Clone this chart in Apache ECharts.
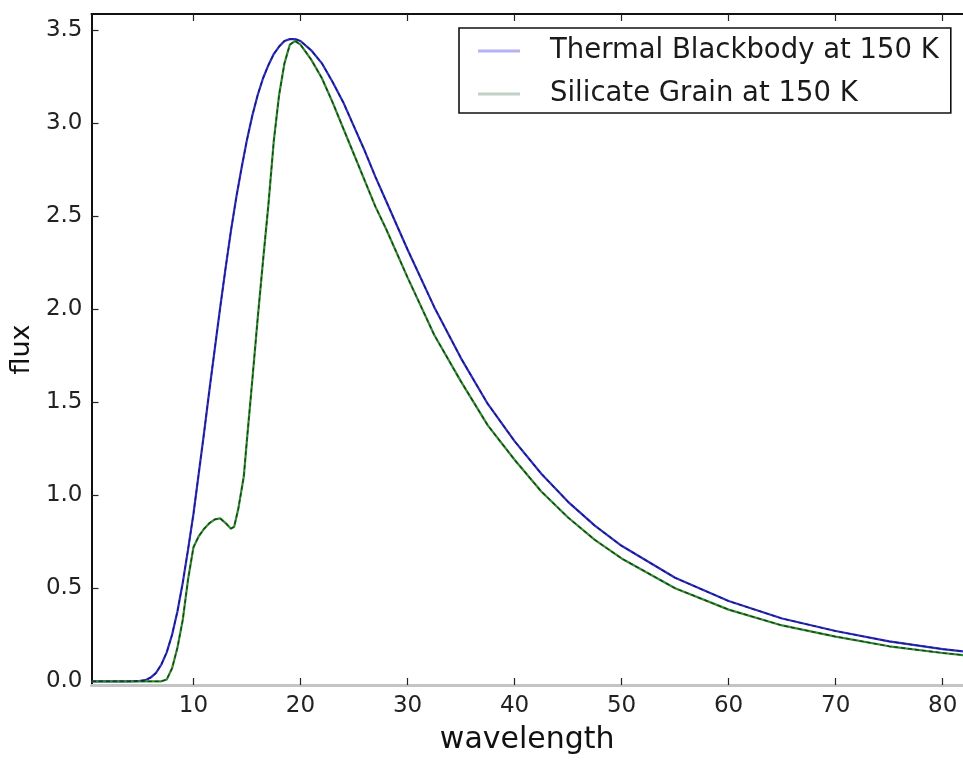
<!DOCTYPE html>
<html>
<head>
<meta charset="utf-8">
<script src="https://cdn.jsdelivr.net/npm/echarts@6/dist/echarts.min.js"></script>
<style>
html,body{margin:0;padding:0;background:#fff;}
#chart{width:963px;height:760px;}
</style>
</head>
<body>
<div id="chart"></div>
<script>
// ---- data ----
const seriesNames = ["Thermal Blackbody at 150 K", "Silicate Grain at 150 K"];
const xTicks = [10, 20, 30, 40, 50, 60, 70, 80];
const yTicks = [0.0, 0.5, 1.0, 1.5, 2.0, 2.5, 3.0, 3.5];

const bbWave = [0.5, 1, 2, 3, 4, 5, 5.5, 6, 6.5, 7, 7.5, 8, 8.5, 9, 9.5, 10, 10.5, 11, 11.5, 12, 12.5, 13, 13.5, 14, 14.5, 15, 15.5, 16, 16.5, 17, 17.5, 18, 18.5, 19, 19.5, 20, 21, 22, 23, 24, 25, 26, 27, 28, 30, 32.5, 35, 37.5, 40, 42.5, 45, 47.5, 50, 55, 60, 65, 70, 75, 80, 82];
const bbFlux = [0, 0, 0, 0, 0, 0.002, 0.006, 0.02, 0.045, 0.09, 0.155, 0.25, 0.375, 0.53, 0.71, 0.90, 1.12, 1.34, 1.57, 1.79, 2.01, 2.22, 2.42, 2.60, 2.76, 2.91, 3.04, 3.15, 3.24, 3.31, 3.37, 3.41, 3.44, 3.45, 3.45, 3.44, 3.39, 3.32, 3.22, 3.11, 2.98, 2.85, 2.71, 2.58, 2.32, 2.01, 1.735, 1.49, 1.29, 1.115, 0.964, 0.836, 0.728, 0.556, 0.431, 0.337, 0.270, 0.214, 0.173, 0.160];

const siWave = [0.5, 1, 2, 3, 4, 5, 6, 7, 7.5, 8, 8.5, 9, 9.5, 10, 10.5, 11, 11.5, 12, 12.5, 13, 13.5, 13.8, 14.2, 14.7, 15, 15.5, 16, 16.5, 17, 17.5, 18, 18.5, 19, 19.5, 20, 21, 22, 23, 24, 25, 26, 27, 28, 30, 32.5, 35, 37.5, 40, 42.5, 45, 47.5, 50, 55, 60, 65, 70, 75, 80, 82];
const siFlux = [0, 0, 0, 0, 0, 0, 0, 0, 0.01, 0.07, 0.18, 0.33, 0.55, 0.72, 0.78, 0.82, 0.85, 0.87, 0.875, 0.85, 0.82, 0.83, 0.93, 1.10, 1.30, 1.62, 1.95, 2.26, 2.56, 2.90, 3.15, 3.32, 3.42, 3.44, 3.42, 3.34, 3.24, 3.11, 2.97, 2.83, 2.69, 2.55, 2.43, 2.17, 1.86, 1.61, 1.375, 1.19, 1.02, 0.88, 0.76, 0.66, 0.50, 0.385, 0.30, 0.24, 0.188, 0.152, 0.140];

const bbData = bbWave.map((w, i) => [w, bbFlux[i]]);
const siData = siWave.map((w, i) => [w, siFlux[i]]);

const chart = echarts.init(document.getElementById('chart'), null, {renderer: 'canvas'});
const FONT = 'DejaVu Sans';

const option = {
  backgroundColor: '#ffffff',
  animation: false,
  grid: {left: 91, top: 14, right: 0, bottom: 70, show: false},
  legend: {
    show: true,
    orient: 'vertical',
    left: 459,
    top: 28,
    padding: [8, 12, 4, 19],
    itemGap: 13,
    itemWidth: 42,
    itemHeight: 3,
    backgroundColor: '#ffffff',
    borderColor: '#111111',
    borderWidth: 1.6,
    borderRadius: 0,
    textStyle: {fontFamily: FONT, fontSize: 27.5, color: '#1a1a1a', padding: [0, 0, 0, 25], lineHeight: 30},
    data: [
      {name: seriesNames[0], icon: 'rect', itemStyle: {color: '#b7b3f2'}},
      {name: seriesNames[1], icon: 'rect', itemStyle: {color: '#c2d0c6'}}
    ]
  },
  xAxis: [{
    type: 'value',
    min: 0.47,
    max: 81.9,
    position: 'bottom',
    name: 'wavelength',
    nameLocation: 'middle',
    nameGap: 40,
    nameTextStyle: {fontFamily: FONT, fontSize: 30, color: '#111'},
    axisLine: {show: true, onZero: false, lineStyle: {color: '#c4c4c4', width: 3}},
    axisTick: {show: true, inside: true, length: 7, customValues: xTicks, lineStyle: {color: '#222', width: 1.2}},
    axisLabel: {show: true, customValues: xTicks, fontFamily: FONT, fontSize: 23, color: '#222', margin: 10, formatter: v => String(v)},
    splitLine: {show: false}
  }, {
    type: 'value',
    min: 0.47,
    max: 81.9,
    position: 'top',
    axisLine: {show: true, onZero: false, lineStyle: {color: '#111', width: 2}},
    axisTick: {show: true, inside: true, length: 7, customValues: xTicks, lineStyle: {color: '#222', width: 1.2}},
    axisLabel: {show: false},
    splitLine: {show: false}
  }],
  yAxis: [{
    type: 'value',
    min: -0.02,
    max: 3.585,
    position: 'left',
    name: 'flux',
    nameLocation: 'middle',
    nameGap: 53,
    nameTextStyle: {fontFamily: FONT, fontSize: 27, color: '#111'},
    axisLine: {show: true, onZero: false, lineStyle: {color: '#111', width: 2}},
    axisTick: {show: true, inside: true, length: 7, customValues: yTicks, lineStyle: {color: '#222', width: 1.2}},
    axisLabel: {show: true, customValues: yTicks, fontFamily: FONT, fontSize: 23, color: '#222', margin: 9, formatter: v => v.toFixed(1)},
    splitLine: {show: false}
  }],
  series: [
    {
      name: seriesNames[0], type: 'line', data: bbData, showSymbol: false, symbol: 'none',
      lineStyle: {color: '#2b2bd6', width: 2.2}, itemStyle: {color: '#b7b3f2'}, z: 2, clip: true
    },
    {
      name: seriesNames[1], type: 'line', data: siData, showSymbol: false, symbol: 'none',
      lineStyle: {color: '#2f8f2f', width: 2.2}, itemStyle: {color: '#c2d0c6'}, z: 2, clip: true
    },
    {
      name: 'bbOverlay', type: 'line', data: bbData, showSymbol: false, symbol: 'none', silent: true,
      lineStyle: {color: '#1c1c55', width: 1.3, type: [4, 3]}, z: 3, clip: true
    },
    {
      name: 'siOverlay', type: 'line', data: siData, showSymbol: false, symbol: 'none', silent: true,
      lineStyle: {color: '#1d3a1d', width: 1.3, type: [4, 3]}, z: 3, clip: true
    }
  ]
};
chart.setOption(option);
</script>
</body>
</html>
